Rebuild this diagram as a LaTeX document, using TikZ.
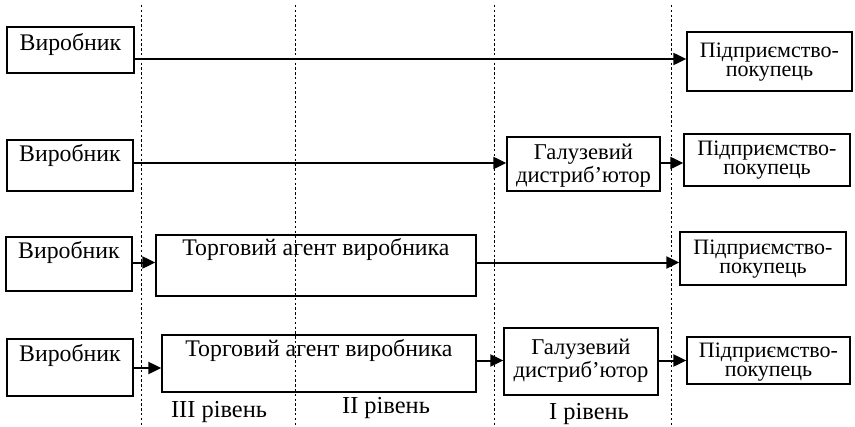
\documentclass[tikz,border=0pt]{standalone}
\usepackage{fontspec}
\setmainfont{Liberation Serif}
\usetikzlibrary{arrows.meta}
\begin{document}
\begin{tikzpicture}[x=0.5pt,y=-0.5pt,
  box/.style={draw, line width=0.65pt, inner sep=0pt},
  arr/.style={line width=1pt, -{Triangle[length=6.5pt,width=6pt]}},
  guide/.style={line width=0.35pt, dash pattern=on 1.2pt off 1.2pt},
  big/.style={font=\fontsize{11.9}{13}\selectfont},
  buyer/.style={font=\fontsize{11}{9.8}\selectfont, align=center},
  dist/.style={font=\fontsize{11.3}{11.6}\selectfont, align=center},
  lvl/.style={font=\fontsize{12.2}{13}\selectfont}]
\useasboundingbox (0,0) rectangle (855,427);

% level boundaries
\foreach \gx in {141,295,494,671}
  \draw[guide] (\gx,5) -- (\gx,427);

% channel 1: producer -> buyer
\node[box, minimum width=63.5pt, minimum height=23pt] (v1) at (70.5,50) {};
\node[big] (v1t) at (70.5,45) {Виробник};
\node[box, minimum width=82.5pt, minimum height=29.5pt] (p1) at (769.5,61.5) {};
\node[buyer] (p1t) at (769.5,62) {Підприємство-\\покупець};
\coordinate (r1) at (0,59);
\draw[arr] (v1.east |- r1) -- (p1.west |- r1);

% channel 2: producer -> distributor -> buyer
\node[box, minimum width=63pt, minimum height=25.5pt] (v2) at (70,165.5) {};
\node[big] (v2t) at (70,156) {Виробник};
\node[box, minimum width=76.5pt, minimum height=27pt] (g2) at (583.5,164) {};
\node[dist] (g2t) at (583.5,166) {Галузевий\\дистриб’ютор};
\node[box, minimum width=83pt, minimum height=26pt] (p2) at (767,160) {};
\node[buyer] (p2t) at (767,160) {Підприємство-\\покупець};
\coordinate (r2) at (0,163);
\draw[arr] (v2.east |- r2) -- (g2.west |- r2);
\draw[arr] (g2.east |- r2) -- (p2.west |- r2);

% channel 3: producer -> agent -> buyer
\node[box, minimum width=63pt, minimum height=27pt] (v3) at (69,264) {};
\node[big] (v3t) at (69,253) {Виробник};
\node[box, minimum width=160pt, minimum height=30.5pt] (t3) at (316,265.5) {};
\node[big] (t3t) at (316,250) {Торговий агент виробника};
\node[box, minimum width=83pt, minimum height=26.5pt] (p3) at (763,258.5) {};
\node[buyer] (p3t) at (763,259) {Підприємство-\\покупець};
\coordinate (r3) at (0,262.5);
\draw[arr] (v3.east |- r3) -- (t3.west |- r3);
\draw[arr] (t3.east |- r3) -- (p3.west |- r3);

% channel 4: producer -> agent -> distributor -> buyer
\node[box, minimum width=63pt, minimum height=28.5pt] (v4) at (70,367.5) {};
\node[big] (v4t) at (70,356) {Виробник};
\node[box, minimum width=157pt, minimum height=28.5pt] (t4) at (319,363.5) {};
\node[big] (t4t) at (319,351) {Торговий агент виробника};
\node[box, minimum width=77pt, minimum height=33.5pt] (g4) at (581,361.5) {};
\node[dist] (g4t) at (581,361) {Галузевий\\дистриб’ютор};
\node[box, minimum width=81.5pt, minimum height=23.5pt] (p4) at (768.5,360.5) {};
\node[buyer] (p4t) at (768.5,362) {Підприємство-\\покупець};
\coordinate (r4a) at (0,368);
\coordinate (r4b) at (0,360.5);
\draw[arr] (v4.east |- r4a) -- (t4.west |- r4a);
\draw[arr] (t4.east |- r4b) -- (g4.west |- r4b);
\draw[arr] (g4.east |- r4b) -- (p4.west |- r4b);

% level captions
\node[lvl] (l3) at (219,412) {III рівень};
\node[lvl] (l2) at (386,408) {II рівень};
\node[lvl] (l1) at (589,414) {I рівень};
\end{tikzpicture}
\end{document}
